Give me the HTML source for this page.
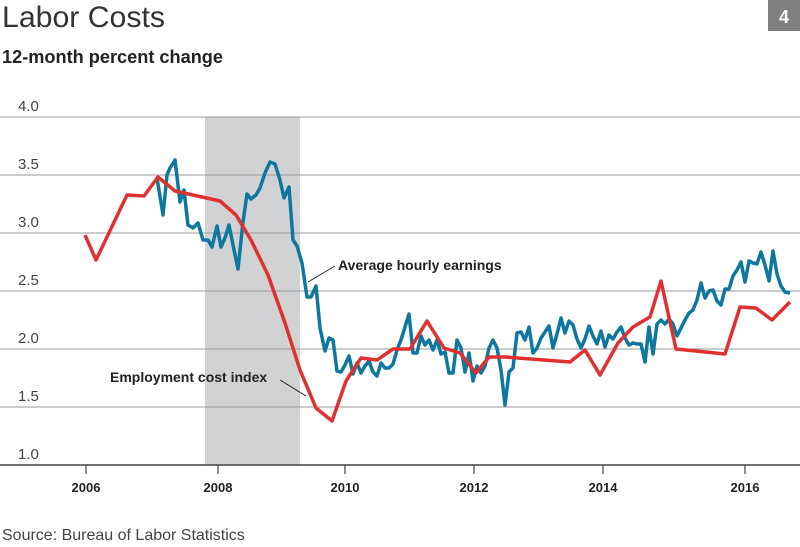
<!DOCTYPE html>
<html><head><meta charset="utf-8"><style>
body{margin:0;width:800px;height:542px;background:#fff;overflow:hidden;font-family:"Liberation Sans",sans-serif;}
</style></head><body>
<svg width="800" height="542" xmlns="http://www.w3.org/2000/svg" font-family="Liberation Sans, sans-serif">
<text x="2" y="27" font-size="30" fill="#333" font-weight="300" textLength="163" lengthAdjust="spacingAndGlyphs">Labor Costs</text>
<rect x="768" y="0" width="32" height="31" fill="#808080"/>
<text x="784" y="23" font-size="18" font-weight="bold" fill="#fff" text-anchor="middle">4</text>
<text x="2" y="63" font-size="18" font-weight="bold" fill="#222" textLength="221" lengthAdjust="spacingAndGlyphs">12-month percent change</text>
<rect x="205" y="117" width="95" height="348" fill="#d1d2d4"/>
<g stroke="#999" stroke-width="1">
<line x1="0" y1="117" x2="800" y2="117"/><line x1="0" y1="175" x2="800" y2="175"/>
<line x1="0" y1="233" x2="800" y2="233"/><line x1="0" y1="291" x2="800" y2="291"/>
<line x1="0" y1="349" x2="800" y2="349"/><line x1="0" y1="407" x2="800" y2="407"/>
</g>
<line x1="0" y1="465" x2="800" y2="465" stroke="#444" stroke-width="1.5"/>
<g stroke="#444" stroke-width="1.2">
<line x1="86" y1="465" x2="86" y2="474"/><line x1="218" y1="465" x2="218" y2="474"/>
<line x1="345" y1="465" x2="345" y2="474"/><line x1="474" y1="465" x2="474" y2="474"/>
<line x1="603" y1="465" x2="603" y2="474"/><line x1="745" y1="465" x2="745" y2="474"/>
</g>
<g font-size="15" fill="#444">
<text x="18" y="111">4.0</text><text x="18" y="169">3.5</text><text x="18" y="227">3.0</text>
<text x="18" y="285">2.5</text><text x="18" y="343">2.0</text><text x="18" y="401">1.5</text><text x="18" y="459">1.0</text>
</g>
<g font-size="13" font-weight="bold" fill="#222" text-anchor="middle">
<text x="86" y="492">2006</text><text x="218" y="492">2008</text><text x="345" y="492">2010</text>
<text x="474" y="492">2012</text><text x="603" y="492">2014</text><text x="745" y="492">2016</text>
</g>
<text x="2" y="540" font-size="16" fill="#444">Source: Bureau of Labor Statistics</text>
<polyline fill="none" stroke="#0e77a0" stroke-width="3.5" stroke-linejoin="round" points="157,178 163,215 167,175 170,168 175,160 180,202 184,190 188,225 193,228 198,223 203,240 208,240 212,247 217,226 221,247 225,238 229,225 233,245 238,269 243,222 247,194 251,199 256,195 260,188 265,173 270,162 275,164 280,180 284,198 289,187 293,240 297,246 302,263 307,297 311,297 316,286 320,328 325,351 329,338 333,340 337,371 341,372 345,365 349,356 353,374 357,363 361,373 365,366 369,361 373,372 377,376 381,363 385,368 389,368 393,364 397,350 401,340 405,327 409,314 413,353 417,353 421,336 425,345 429,340 433,350 437,340 441,354 445,352 449,373 453,373 457,340 461,348 465,372 469,353 473,381 477,366 481,373 485,366 489,348 493,340 497,348 501,370 505,405 509,372 513,368 517,333 521,332 525,340 529,327 533,353 537,348 541,338 545,332 549,326 553,348 557,334 561,318 565,333 569,321 573,325 577,339 581,348 585,339 589,326 593,336 597,344 601,331 605,347 609,335 613,339 617,332 621,327 625,338 629,345 633,343 637,344 641,344 645,362 649,327 653,354 657,324 661,320 665,324 669,319 673,324 677,336 681,328 685,320 689,313 693,310 697,300 701,283 705,298 709,291 713,290 717,301 721,305 725,289 729,289 733,276 737,270 741,262 745,282 749,261 753,263 757,264 761,252 765,265 769,281 773,251 777,274 781,286 785,292 790,293"/>
<polyline fill="none" stroke="#e03131" stroke-width="3.5" stroke-linejoin="round" points="85,235 96,260 127,195 144,196 158,177 175,191 220,201 236,215 251,240 268,275 285,323 300,370 316,408 332,421 346,381 361,358 377,360 393,349 410,349 427,321 444,348 460,353 476,373 489,357 505,357 570,362 585,350 600,375 618,343 633,327 650,317 661,281 676,349 725,354 740,307 756,308 772,320 790,302"/>
<line x1="335" y1="266" x2="308" y2="282" stroke="#222" stroke-width="1"/>
<text x="338" y="270" font-size="14" font-weight="bold" fill="#222">Average hourly earnings</text>
<line x1="280" y1="380" x2="306" y2="396" stroke="#222" stroke-width="1"/>
<text x="110" y="382" font-size="14" font-weight="bold" fill="#222">Employment cost index</text>
</svg>
</body></html>
